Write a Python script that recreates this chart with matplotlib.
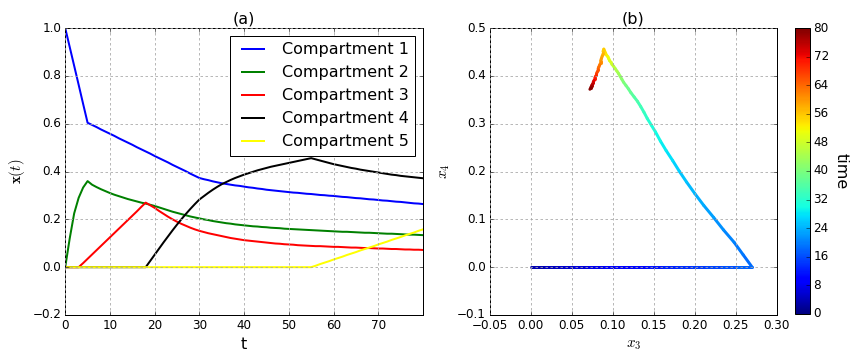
import numpy as np
import matplotlib
matplotlib.use("Agg")
import matplotlib.pyplot as plt
from matplotlib.collections import LineCollection

plt.style.use("classic")

# time grid (one value per time unit)
t = list(range(0, 81))

c1 = [1.000, 0.921, 0.842, 0.763, 0.683, 0.604, 0.595, 0.586, 0.576, 0.567,
      0.558, 0.549, 0.539, 0.530, 0.521, 0.512, 0.502, 0.493, 0.484, 0.475,
      0.465, 0.456, 0.447, 0.438, 0.428, 0.419, 0.410, 0.401, 0.391, 0.382,
      0.373, 0.368, 0.364, 0.359, 0.355, 0.351, 0.348, 0.345, 0.342, 0.340,
      0.337, 0.334, 0.332, 0.329, 0.327, 0.324, 0.322, 0.320, 0.318, 0.316,
      0.314, 0.312, 0.311, 0.309, 0.307, 0.306, 0.304, 0.302, 0.301, 0.299,
      0.298, 0.296, 0.294, 0.293, 0.291, 0.289, 0.288, 0.286, 0.284, 0.283,
      0.281, 0.279, 0.278, 0.276, 0.274, 0.273, 0.271, 0.269, 0.267, 0.266,
      0.264]

c2 = [0.000, 0.120, 0.225, 0.290, 0.333, 0.360, 0.345, 0.335, 0.326, 0.318,
      0.310, 0.303, 0.297, 0.291, 0.285, 0.280, 0.275, 0.270, 0.266, 0.261,
      0.256, 0.250, 0.244, 0.238, 0.232, 0.227, 0.222, 0.217, 0.212, 0.208,
      0.204, 0.200, 0.197, 0.193, 0.190, 0.187, 0.184, 0.182, 0.179, 0.177,
      0.175, 0.173, 0.171, 0.170, 0.168, 0.167, 0.165, 0.164, 0.163, 0.161,
      0.160, 0.159, 0.158, 0.157, 0.156, 0.155, 0.154, 0.153, 0.152, 0.151,
      0.150, 0.149, 0.148, 0.148, 0.147, 0.146, 0.145, 0.144, 0.144, 0.143,
      0.142, 0.141, 0.140, 0.140, 0.139, 0.138, 0.137, 0.136, 0.136, 0.135,
      0.134]

c3 = [0.000, 0.000, 0.000, 0.000, 0.017, 0.035, 0.053, 0.071, 0.089, 0.107,
      0.125, 0.143, 0.161, 0.179, 0.197, 0.215, 0.233, 0.252, 0.270, 0.259,
      0.248, 0.235, 0.223, 0.211, 0.200, 0.190, 0.181, 0.173, 0.165, 0.158,
      0.152, 0.147, 0.142, 0.138, 0.134, 0.130, 0.126, 0.122, 0.119, 0.116,
      0.113, 0.111, 0.109, 0.107, 0.105, 0.103, 0.101, 0.099, 0.098, 0.096,
      0.095, 0.094, 0.092, 0.091, 0.090, 0.089, 0.088, 0.088, 0.087, 0.086,
      0.085, 0.085, 0.084, 0.083, 0.082, 0.082, 0.081, 0.080, 0.080, 0.079,
      0.078, 0.078, 0.077, 0.076, 0.076, 0.075, 0.074, 0.074, 0.073, 0.073,
      0.072]

c4 = [0.000, 0.000, 0.000, 0.000, 0.000, 0.000, 0.000, 0.000, 0.000, 0.000,
      0.000, 0.000, 0.000, 0.000, 0.000, 0.000, 0.000, 0.000, 0.000, 0.026,
      0.052, 0.078, 0.104, 0.129, 0.154, 0.178, 0.201, 0.223, 0.244, 0.264,
      0.283, 0.297, 0.311, 0.324, 0.336, 0.347, 0.356, 0.365, 0.373, 0.380,
      0.387, 0.393, 0.399, 0.405, 0.410, 0.415, 0.420, 0.424, 0.428, 0.432,
      0.436, 0.440, 0.444, 0.448, 0.452, 0.456, 0.451, 0.446, 0.441, 0.436,
      0.431, 0.427, 0.423, 0.419, 0.415, 0.412, 0.408, 0.405, 0.402, 0.399,
      0.396, 0.393, 0.390, 0.387, 0.385, 0.382, 0.380, 0.378, 0.376, 0.374,
      0.372]

c5 = [0.000] * 56 + [0.006, 0.013, 0.019, 0.025, 0.032, 0.038, 0.044, 0.051,
                     0.057, 0.063, 0.070, 0.076, 0.082, 0.088, 0.095, 0.101,
                     0.107, 0.114, 0.120, 0.126, 0.133, 0.139, 0.145, 0.152,
                     0.158]

series = [c1, c2, c3, c4, c5]
names = ["Compartment 1", "Compartment 2", "Compartment 3",
         "Compartment 4", "Compartment 5"]
colors = ["b", "g", "r", "k", "yellow"]

grid_kw = dict(color="0.65", linestyle=(0, (2.5, 2.5)), linewidth=0.8)

fig = plt.figure(figsize=(12, 5), dpi=72, facecolor="white")
ax1 = fig.add_axes([0.0755, 0.125, 0.414, 0.797])
ax2 = fig.add_axes([0.567, 0.125, 0.332, 0.797])
cax = fig.add_axes([0.920, 0.128, 0.017, 0.794])

for y, nm, c in zip(series, names, colors):
    ax1.plot(t, y, color=c, lw=2, label=nm)
ax1.set_xlim(0, 80)
ax1.set_ylim(-0.2, 1.0)
ax1.set_xticks(np.arange(0, 71, 10))
ax1.grid(True, **grid_kw)
ax1.set_xlabel("t", fontsize=16)
ax1.set_ylabel(r"$\mathbf{x}(t)$", fontsize=15)
ax1.set_title("(a)", fontsize=16)
ax1.legend(loc="upper right", fontsize=16)

# phase plot x3 vs x4 coloured by time
pts = np.column_stack([c3, c4])
segs = np.stack([pts[:-1], pts[1:]], axis=1)
tt = np.asarray(t, dtype=float)
lc = LineCollection(segs, cmap="jet", norm=plt.Normalize(0, 80),
                    linewidths=3, capstyle="round", joinstyle="round")
lc.set_array(0.5 * (tt[:-1] + tt[1:]))
ax2.add_collection(lc)
ax2.set_xlim(-0.05, 0.30)
ax2.set_ylim(-0.1, 0.5)
ax2.grid(True, **grid_kw)
ax2.set_xlabel(r"$x_3$", fontsize=15)
ax2.set_ylabel(r"$x_4$", fontsize=15)
ax2.set_title("(b)", fontsize=16)

cb = fig.colorbar(lc, cax=cax, ticks=np.arange(0, 81, 8))
cb.set_label("time", rotation=270, fontsize=16, labelpad=20)

fig.savefig("out.png", dpi=72, facecolor="white")
